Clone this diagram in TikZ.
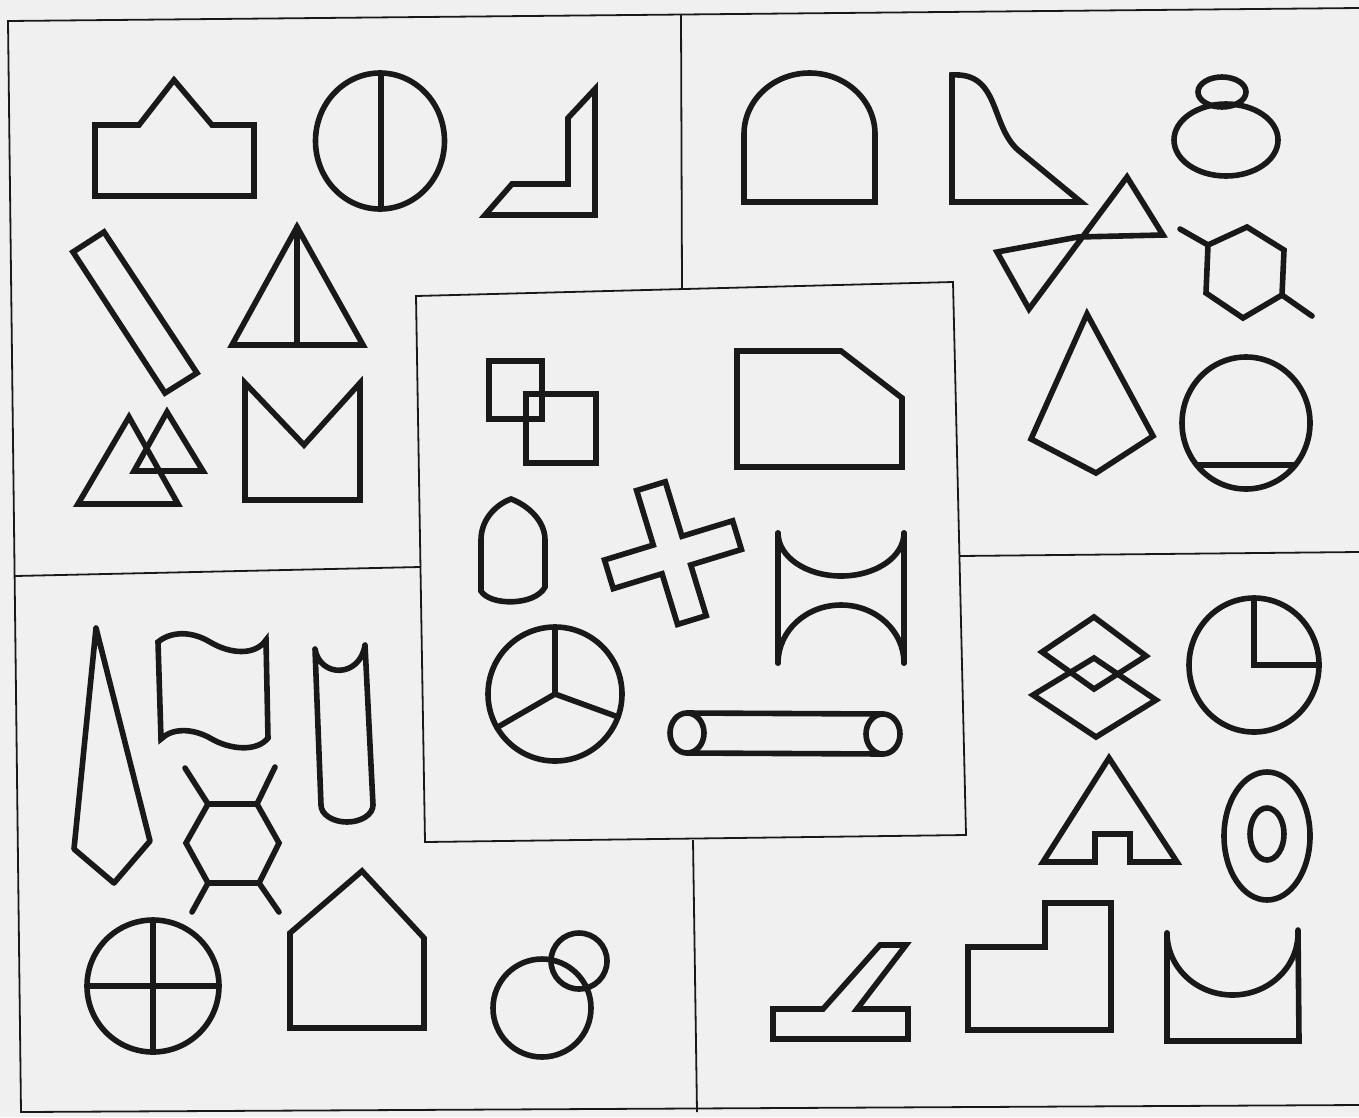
\documentclass[tikz,border=0pt]{standalone}

\definecolor{ink}{gray}{0.1}
\definecolor{paper}{gray}{0.94}

\begin{document}
\begin{tikzpicture}[x=1pt,y=-1pt,
  fig/.style={draw=ink,line width=5.6pt,line cap=round},
  frame/.style={draw=ink,line width=1.8pt}]

\fill[paper] (0,0) rectangle (1359,1117);
\useasboundingbox (0,0) rectangle (1359,1117);

%====================================================
% Frame lines
%====================================================
\draw[frame] (1359,8) -- (8,21) -- (21,1112) -- (1359,1105);
\draw[frame] (681,14) -- (682,289);
\draw[frame] (416,296) -- (953,282) -- (966,835) -- (425,842) -- cycle;
\draw[frame] (15,576) -- (420,567);
\draw[frame] (693,840) -- (697,1112);
\draw[frame] (959,556) -- (1359,552);

%====================================================
% Panel 1 : top left
%====================================================
% Crown
\draw[fig] (95,196) -- (254,196) -- (254,125) -- (212,125) -- (174,80)
  -- (139,125) -- (95,125) -- cycle;

% Split oval
\draw[fig] (380,141) ellipse[x radius=64.5,y radius=68];
\draw[fig] (381,73) -- (381,209);

% Corner
\draw[fig] (595,89) -- (595,215) -- (485,215) -- (512,184) -- (568,184)
  -- (568,118) -- cycle;

% Bar
\draw[fig] (73,252) -- (104,232) -- (197,373) -- (165,393) -- cycle;

% Split triangle
\draw[fig] (297,227) -- (363,345) -- (232,345) -- cycle;
\draw[fig] (297,227) -- (297,345);

% Two triangles
\draw[fig] (129,417) -- (178,504) -- (78,504) -- cycle;
\draw[fig] (167,412) -- (203,471) -- (134,471) -- cycle;

% Notched block
\draw[fig] (245,383) -- (304,445) -- (360,383) -- (360,500) -- (245,500) -- cycle;

%====================================================
% Panel 2 : top right
%====================================================
% Arch
\draw[fig] (744,202) -- (744,134)
  arc[start angle=180,end angle=0,x radius=65.5pt,y radius=61pt]
  -- (875,202) -- cycle;

% Curved wedge
\draw[fig] (952,75) .. controls (1000,72) and (990,125) .. (1018,150)
  -- (1081,202) -- (952,202) -- cycle;

% Snowman
\draw[fig] (1226,140) ellipse[x radius=52,y radius=36];
\draw[fig] (1222,92) ellipse[x radius=24,y radius=15];

% Bow tie
\draw[fig] (997,252) -- (1078,237) -- (1163,235) -- (1127,177) -- (1029,309) -- cycle;

% Hexagon, two stubs
\draw[fig] (1247,227) -- (1284,250) -- (1282,295) -- (1243,318) -- (1206,293)
  -- (1208,245) -- cycle;
\draw[fig] (1208,245) -- (1180,229);
\draw[fig] (1282,295) -- (1312,316);

% Kite
\draw[fig] (1087,314) -- (1153,436) -- (1096,473) -- (1031,439) -- cycle;

% Oval with chord
\draw[fig] (1246,423) ellipse[x radius=64,y radius=66];
\draw[fig] (1197,465) -- (1295,465);

%====================================================
% Panel 3 : centre
%====================================================
% Two squares
\draw[fig] (489,361) rectangle (542,419);
\draw[fig] (526,394) rectangle (596,463);

% Cut block
\draw[fig] (737,351) -- (841,351) -- (902,398) -- (902,467) -- (737,467) -- cycle;

% Bullet
\draw[fig] (545,560) -- (545,587) .. controls (535,606) and (490,606) .. (481,591)
  -- (481,540) .. controls (481,520) and (495,505) .. (511,499)
  .. controls (527,505) and (545,520) .. (545,540) -- cycle;

% Cross
\begin{scope}[shift={(672,555)},rotate=17]
\draw[fig] (-15,-72) -- (15,-72) -- (15,-15) -- (68,-15) -- (68,15) -- (15,15)
  -- (15,68) -- (-15,68) -- (-15,15) -- (-66,15) -- (-66,-15) -- (-15,-15) -- cycle;
\end{scope}

% Hourglass
\draw[fig] (778,533) -- (778,663);
\draw[fig] (904,533) -- (904,663);
\draw[fig] (778,533) arc[start angle=180,end angle=360,x radius=63pt,y radius=43pt];
\draw[fig] (778,663) arc[start angle=180,end angle=0,x radius=63pt,y radius=58pt];

% Three spokes
\draw[fig] (555,694) circle[radius=67];
\draw[fig] (555,694) -- (555,627) (555,694) -- +(210:67pt) (555,694) -- +(-20:67pt);

% Roller
\draw[fig] (687,733) ellipse[x radius=17,y radius=20];
\draw[fig] (883,734) ellipse[x radius=17,y radius=20];
\draw[fig] (687,713) -- (883,714);
\draw[fig] (687,753) -- (883,754);

%====================================================
% Panel 4 : bottom left
%====================================================
% Tie
\draw[fig,line join=round] (96,628) -- (150,841) -- (114,883) -- (74,849) -- cycle;

% Flag
\draw[fig] (158,642) .. controls (170,632) and (190,630) .. (210,642)
  .. controls (230,654) and (255,656) .. (266,640) -- (268,738)
  .. controls (257,752) and (230,750) .. (210,738)
  .. controls (192,728) and (172,728) .. (161,739) -- cycle;

% Test tube
\draw[fig,line join=round] (315,649) .. controls (320,678) and (360,678) .. (365,645)
  -- (373,805) arc[start angle=0,end angle=-180,x radius=26pt,y radius=17pt] -- cycle;

% Hexagon, four stubs
\draw[fig] (208,804) -- (257,804) -- (279,843) -- (259,883) -- (208,883)
  -- (186,843) -- cycle;
\draw[fig] (208,804) -- (185,768) (257,804) -- (275,767)
  (208,883) -- (192,912) (259,883) -- (279,912);

% Circle with cross
\draw[fig] (153,986) circle[radius=66];
\draw[fig] (153,920) -- (153,1052) (87,986) -- (219,986);

% House
\draw[fig] (362,871) -- (424,938) -- (424,1028) -- (290,1028) -- (290,933) -- cycle;

% Two rings
\draw[fig] (542,1008) circle[radius=49];
\draw[fig] (579,961) circle[radius=28];

%====================================================
% Panel 5 : bottom right
%====================================================
% Diamonds
\draw[fig] (1094,617) -- (1146,656) -- (1094,689) -- (1042,652) -- cycle;
\draw[fig] (1094,658) -- (1156,700) -- (1096,737) -- (1033,695) -- cycle;

% Quarter circle
\draw[fig] (1254,665) ellipse[x radius=65,y radius=67];
\draw[fig] (1254,598) -- (1254,665) -- (1319,665);

% Notched triangle
\draw[fig] (1109,758) -- (1177,862) -- (1130,862) -- (1130,834) -- (1095,834)
  -- (1095,862) -- (1043,862) -- cycle;

% Ring
\draw[fig] (1267,836) ellipse[x radius=43,y radius=64];
\draw[fig] (1267,834) ellipse[x radius=17,y radius=26];

% Slanted stand
\draw[fig] (773,1009) -- (823,1009) -- (880,945) -- (906,945) -- (857,1009)
  -- (908,1009) -- (908,1039) -- (773,1039) -- cycle;

% Step block
\draw[fig] (968,947) -- (1045,947) -- (1045,903) -- (1111,903) -- (1111,1030)
  -- (968,1030) -- cycle;

% Bowl
\draw[fig] (1167,933) -- (1167,1041) -- (1299,1041) -- (1298,930);
\draw[fig] (1167,933) arc[start angle=180,end angle=360,x radius=65.5pt,y radius=62pt];

\end{tikzpicture}
\end{document}
